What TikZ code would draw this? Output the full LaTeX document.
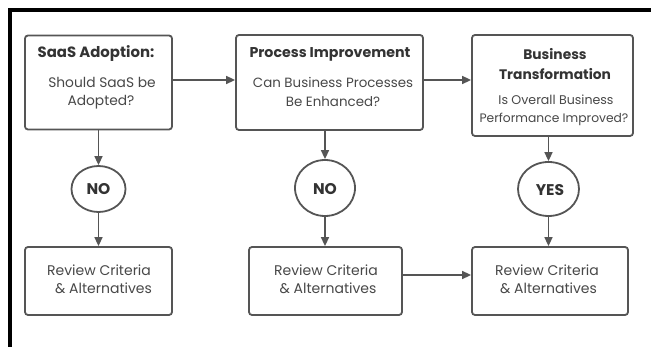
\documentclass[tikz,border=0pt]{standalone}
\usepackage{fontspec}
\setmainfont{Poppins}
\usetikzlibrary{arrows.meta,shapes.geometric}
\definecolor{linegray}{HTML}{555555}
\definecolor{txtgray}{HTML}{333333}
\definecolor{bodygray}{HTML}{484848}
\tikzset{
  box/.style={draw=linegray, line width=1.8pt, rounded corners=3pt, fill=white, inner sep=0pt},
  circ/.style={draw=linegray, line width=1.8pt, ellipse, fill=white, inner sep=0pt},
  ttl/.style={text=txtgray, font=\fontsize{#1}{#1}\selectfont\bfseries, inner sep=0pt},
  txt/.style={text=bodygray, font=\fontsize{#1}{#1}\selectfont, inner sep=0pt},
  conn/.style={draw=linegray, line width=1.6pt, -{Triangle[length=9pt,width=8pt]}},
}
\begin{document}
\begin{tikzpicture}[x=1pt,y=-1pt]
\useasboundingbox (0,0) rectangle (651,347);
\fill[white] (0,0) rectangle (651,347);
% frame
\draw[black, line width=3.5pt] (10,347) -- (10,10) -- (651,10);
% top boxes
\node[box, minimum width=147pt, minimum height=94pt] (b1) at (98.5,82.5) {};
\node[box, minimum width=187pt, minimum height=95pt] (b2) at (329.5,82.5) {};
\node[box, minimum width=161pt, minimum height=101pt] (b3) at (552.5,85.5) {};
% circles
\node[circ, minimum width=54pt, minimum height=46pt] (c1) at (98.5,189) {};
\node[circ, minimum width=60pt, minimum height=56pt] (c2) at (325,188) {};
\node[circ, minimum width=61pt, minimum height=54pt] (c3) at (548.5,189) {};
% bottom boxes
\node[box, minimum width=147pt, minimum height=68pt] (b4) at (98.5,281) {};
\node[box, minimum width=153pt, minimum height=68pt] (b5) at (325.5,281) {};
\node[box, minimum width=156pt, minimum height=68pt] (b6) at (550,281) {};
% texts
\node[ttl=14.9] (t1a) at (96,54) {SaaS Adoption:};
\node[txt=13.8] (t1b) at (102,82) {Should SaaS be};
\node[txt=13.8] (t1c) at (101,102) {Adopted?};
\node[ttl=14.2] (t2a) at (330,54) {Process Improvement};
\node[txt=13.4] (t2b) at (333,82) {Can Business Processes};
\node[txt=13.4] (t2c) at (333,102) {Be Enhanced?};
\node[ttl=13.8] (t3a) at (555,54) {Business};
\node[ttl=13.8] (t3b) at (555,74) {Transformation};
\node[txt=12.6] (t3c) at (556,100) {Is Overall Business};
\node[txt=12.3] (t3d) at (554,119) {Performance Improved?};
\node[ttl=15.5] (n1) at (98.5,189) {NO};
\node[ttl=15.5] (n2) at (325,189) {NO};
\node[ttl=15.5] (n3) at (550,190) {YES};
\node[txt=14] (r1a) at (99,270) {Review Criteria};
\node[txt=14] (r1b) at (103.5,288) {\& Alternatives};
\node[txt=14] (r2a) at (326,270) {Review Criteria};
\node[txt=14] (r2b) at (328,288) {\& Alternatives};
\node[txt=14] (r3a) at (547,270) {Review Criteria};
\node[txt=14] (r3b) at (548.5,288) {\& Alternatives};
% connectors
\draw[conn] (b1.east |- 0,80) -- (b2.west |- 0,80);
\draw[conn] (b2.east |- 0,80) -- (b3.west |- 0,80);
\draw[conn] (b1.south) -- (c1.north);
\draw[conn] (b2.south -| c2.north) -- (c2.north);
\draw[conn] (b3.south -| c3.north) -- (c3.north);
\draw[conn] (c1.south) -- (b4.north);
\draw[conn] (c2.south) -- (b5.north -| c2.south);
\draw[conn] (c3.south) -- (b6.north -| c3.south);
\draw[conn] (b5.east |- 0,275) -- (b6.west |- 0,275);
\end{tikzpicture}
\end{document}
